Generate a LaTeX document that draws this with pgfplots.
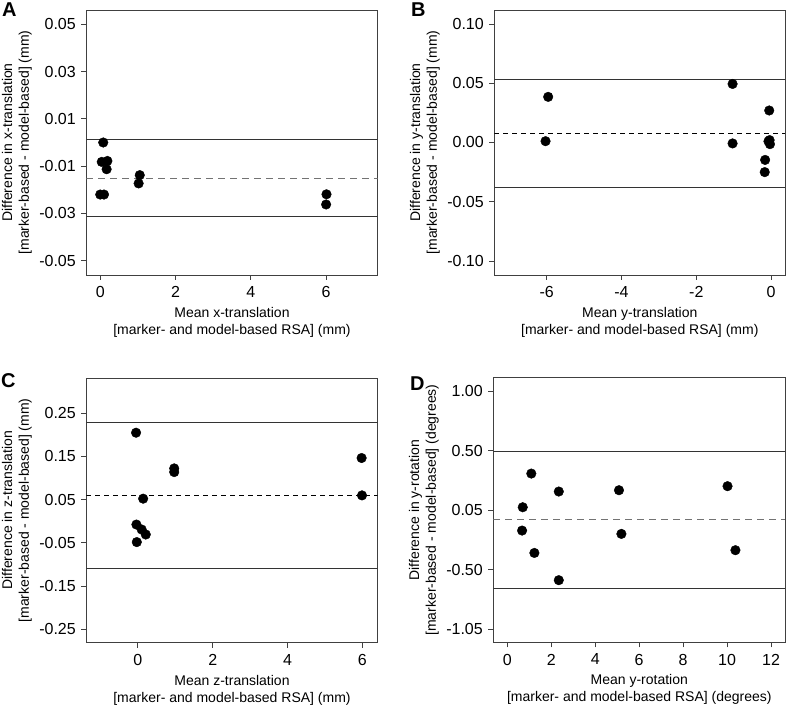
\documentclass[border=0pt]{standalone}
\usepackage{pgfplots}
\pgfplotsset{compat=1.18}
\usepackage{fontspec}
\setmainfont{Liberation Sans}
\pgfplotsset{
  ba/.style={
    scale only axis,
    scaled x ticks=false, scaled y ticks=false,
    /pgf/number format/assume math mode=true,
    axis line style={black!75, line width=0.9pt},
    every tick/.style={black!75, line width=0.9pt},
    tick align=outside,
    major tick length=5pt,
    xtick pos=left, ytick pos=left,
    tick label style={font=\fontsize{16}{19}\selectfont},
    yticklabel style={xshift=-2pt},
    xticklabel style={yshift=-3pt},
    label style={font=\fontsize{14}{16.7}\selectfont, align=center},
    xlabel style={at={([yshift=-29pt]axis description cs:0.5,0)}, anchor=north},
    ylabel style={at={([xshift=-51pt]axis description cs:0,0.5)}, anchor=south},
    clip=true,
  },
  dots/.style={only marks, mark=*, mark size=4.8pt, black, mark options={fill=black, draw=black}},
  sol/.style={black!80, line width=0.9pt, forget plot},
  dashg/.style={black!55, line width=1pt, dash pattern=on 7pt off 5pt, forget plot},
  dashb/.style={black, line width=0.9pt, dash pattern=on 5pt off 4pt, forget plot},
}
\begin{document}
\begin{tikzpicture}
\useasboundingbox (0,0) rectangle (787pt,706pt);
% Panel A
\begin{axis}[ba, at={(86.3pt,431pt)}, anchor=south west, width=291.4pt, height=265pt,
  xmin=-0.37, xmax=7.37, ymin=-0.056, ymax=0.056,
  xtick={0,2,4,6},
  xticklabels={0,2,4,6},
  ytick={-0.05,-0.03,-0.01,0.01,0.03,0.05},
  yticklabels={-0.05,-0.03,-0.01,0.01,0.03,0.05},
  xlabel={Mean x-translation\\{}[marker- and model-based RSA] (mm)},
  ylabel={Difference in x-translation\\{}[marker-based - model-based] (mm)}]
\addplot[sol] coordinates {(-0.37,0.0013) (7.37,0.0013)};
\addplot[dashg] coordinates {(-0.37,-0.0152) (7.37,-0.0152)};
\addplot[sol] coordinates {(-0.37,-0.0314) (7.37,-0.0314)};
\addplot[dots] coordinates {(0.08,0.0000) (0.04,-0.0082) (0.19,-0.0078) (0.17,-0.0113) (0.00,-0.0220) (0.10,-0.0220) (1.05,-0.0138) (1.02,-0.0173) (6.01,-0.0219) (6.00,-0.0262)};
\end{axis}
% Panel B
\begin{axis}[ba, at={(494.3pt,431pt)}, anchor=south west, width=291pt, height=265pt,
  xmin=-7.4, xmax=0.38, ymin=-0.1118, ymax=0.1118,
  xtick={-6,-4,-2,0},
  xticklabels={-6,-4,-2,0},
  ytick={-0.10,-0.05,0,0.05,0.10},
  yticklabels={-0.10,-0.05,0.00,0.05,0.10},
  xlabel={Mean y-translation\\{}[marker- and model-based RSA] (mm)},
  ylabel={Difference in y-translation\\{}[marker-based - model-based] (mm)}]
\addplot[sol] coordinates {(-7.4,0.0534) (0.38,0.0534)};
\addplot[dashb] coordinates {(-7.4,0.0076) (0.38,0.0076)};
\addplot[sol] coordinates {(-7.4,-0.0383) (0.38,-0.0383)};
\addplot[dots] coordinates {(-5.96,0.0385) (-6.03,0.0011) (-1.03,0.0494) (-1.03,-0.0008) (-0.05,0.027) (-0.07,0.001) (-0.03,-0.0014) (-0.04,0.002) (-0.16,-0.0147) (-0.17,-0.025)};
\end{axis}
% Panel C
\begin{axis}[ba, at={(86.3pt,63.3pt)}, anchor=south west, width=291.4pt, height=264.7pt,
  xmin=-1.38, xmax=6.41, ymin=-0.281, ymax=0.331,
  xtick={0,2,4,6},
  xticklabels={0,2,4,6},
  ytick={-0.25,-0.15,-0.05,0.05,0.15,0.25},
  yticklabels={-0.25,-0.15,-0.05,0.05,0.15,0.25},
  xlabel={Mean z-translation\\{}[marker- and model-based RSA] (mm)},
  ylabel={Difference in z-translation\\{}[marker-based - model-based] (mm)}]
\addplot[sol] coordinates {(-1.38,0.2284) (6.41,0.2284)};
\addplot[dashb] coordinates {(-1.38,0.060) (6.41,0.060)};
\addplot[sol] coordinates {(-1.38,-0.1093) (6.41,-0.1093)};
\addplot[dots] coordinates {(-0.05,0.2045) (5.98,0.146) (0.97,0.122) (0.97,0.1135) (0.14,0.052) (5.99,0.0596) (-0.04,-0.0078) (0.10,-0.0193) (0.21,-0.0309) (-0.03,-0.0484)};
\end{axis}
% Panel D
\begin{axis}[ba, at={(493.3pt,63.7pt)}, anchor=south west, width=292pt, height=264.4pt,
  xmin=-0.64, xmax=12.65, ymin=-1.11, ymax=1.112,
  xtick={0,2,4,6,8,10,12},
  xticklabels={0,2,4,6,8,10,12},
  ytick={-1,-0.5,0,0.5,1},
  yticklabels={-1.05,-0.50,0.05,0.50,1.00},
  xlabel={Mean y-rotation\\{}[marker- and model-based RSA] (degrees)},
  ylabel={Difference in y-rotation\\{}[marker-based - model-based] (degrees)}]
\addplot[sol] coordinates {(-0.64,0.497) (12.65,0.497)};
\addplot[dashg] coordinates {(-0.64,-0.078) (12.65,-0.078)};
\addplot[sol] coordinates {(-0.64,-0.657) (12.65,-0.657)};
\addplot[dots] coordinates {(1.09,0.308) (0.70,0.025) (0.67,-0.171) (1.23,-0.359) (2.34,0.157) (2.34,-0.588) (5.08,0.168) (5.19,-0.199) (10.02,0.202) (10.38,-0.336)};
\end{axis}
\node[anchor=north west, inner sep=0pt, font=\bfseries\fontsize{20}{20}\selectfont] at (2pt,703pt) {A};
\node[anchor=north west, inner sep=0pt, font=\bfseries\fontsize{20}{20}\selectfont] at (411pt,703pt) {B};
\node[anchor=north west, inner sep=0pt, font=\bfseries\fontsize{20}{20}\selectfont] at (1pt,333pt) {C};
\node[anchor=north west, inner sep=0pt, font=\bfseries\fontsize{20}{20}\selectfont] at (410pt,329pt) {D};
\end{tikzpicture}
\end{document}
